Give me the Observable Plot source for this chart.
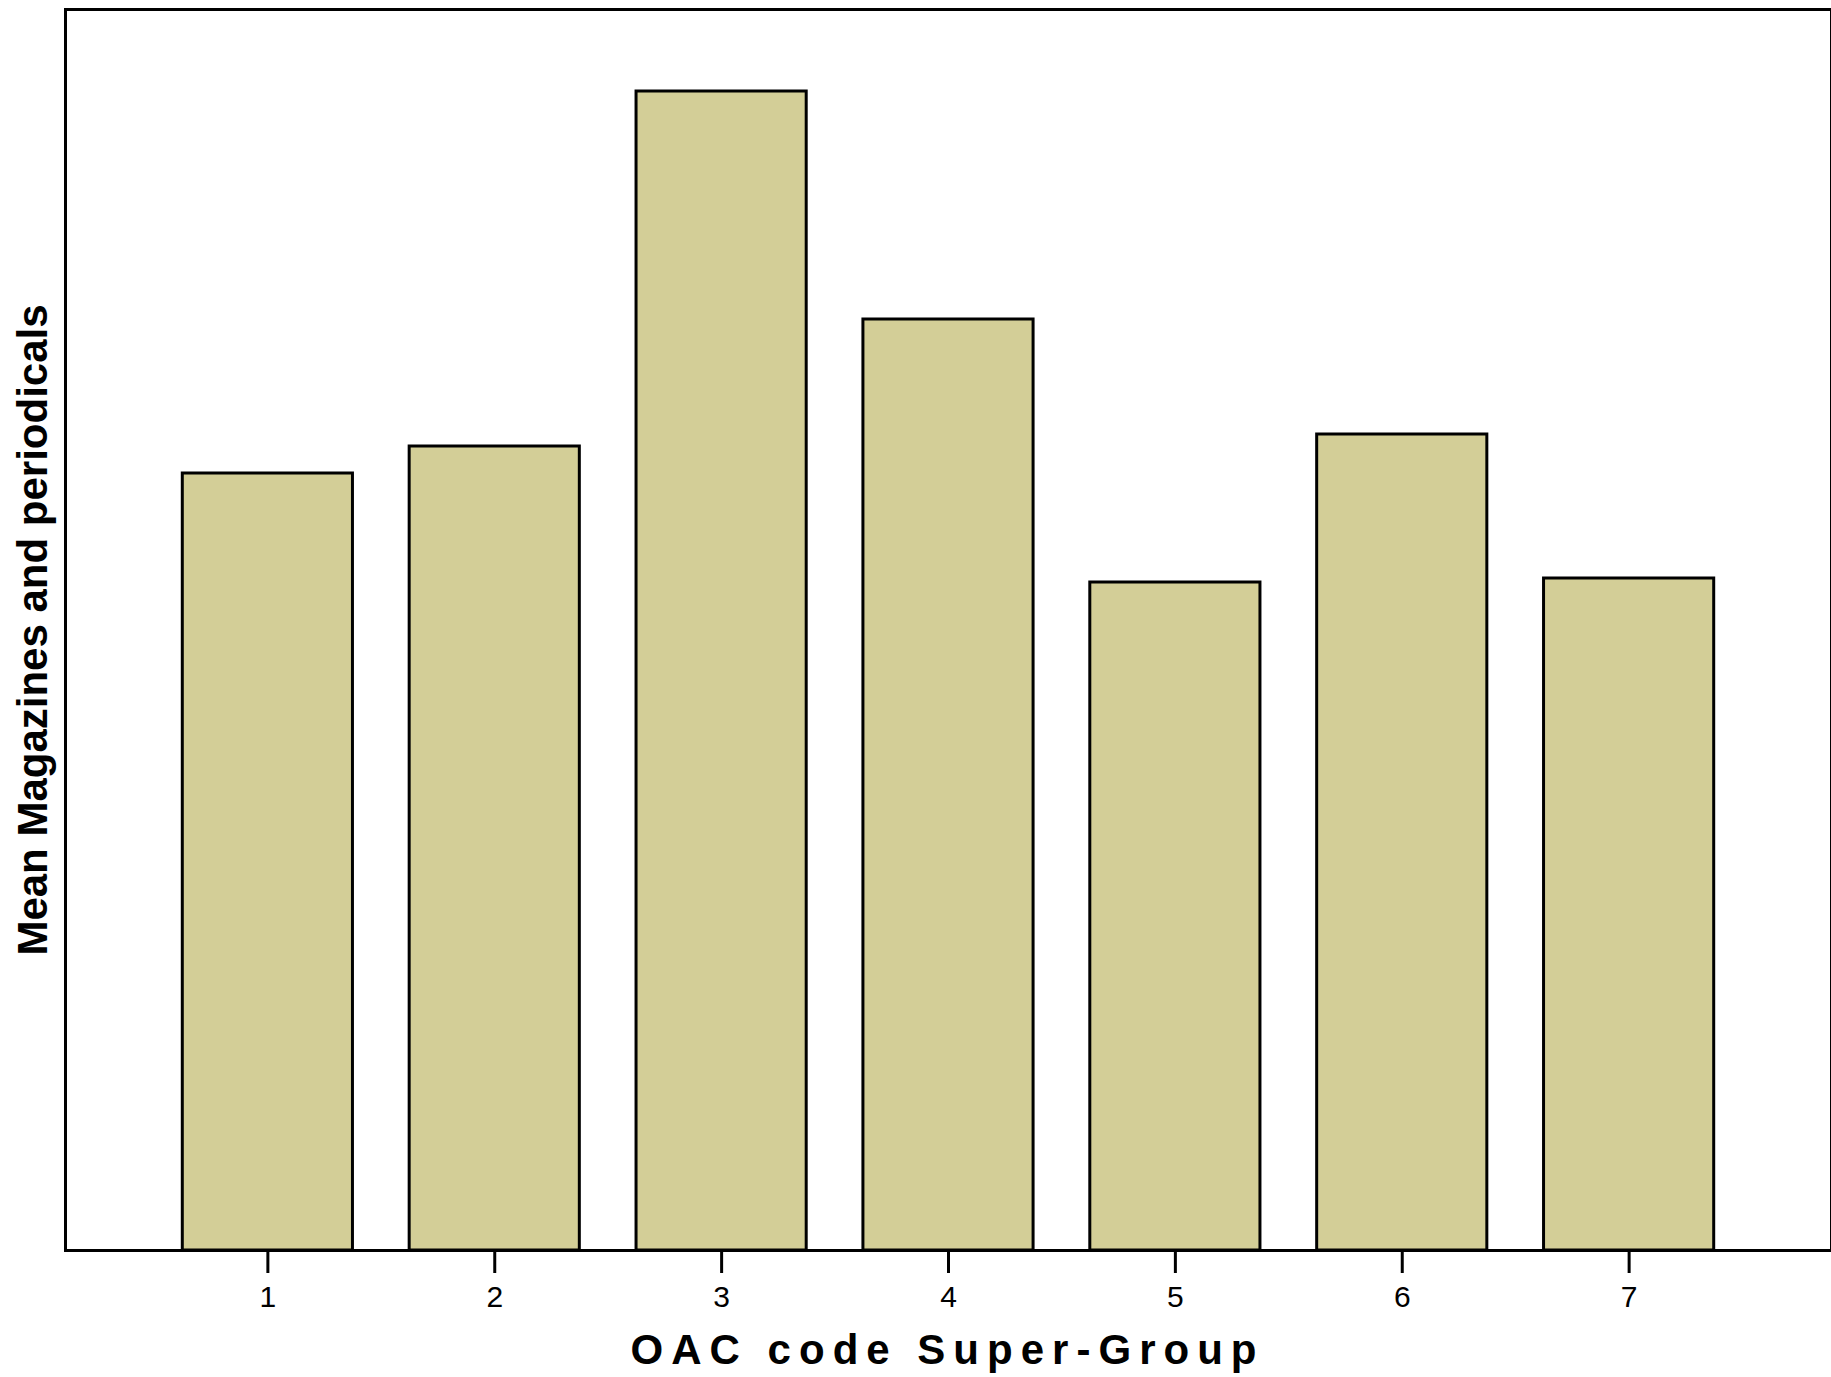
<!DOCTYPE html>
<html>
<head>
<meta charset="utf-8">
<script src="https://cdn.jsdelivr.net/npm/d3@7"></script>
<script src="https://cdn.jsdelivr.net/npm/@observablehq/plot@0.6"></script>
<style>
  html, body { margin: 0; padding: 0; background: #ffffff; }
  #chart { width: 1831px; height: 1377px; overflow: hidden; }
</style>
</head>
<body>
<div id="chart"></div>
<script>
// ---- data ----
const categories = ["1", "2", "3", "4", "5", "6", "7"];
const means = [7.77, 8.04, 11.59, 9.31, 6.68, 8.16, 6.72];
const yMax = 12.41;
const xTitle = "OAC code Super-Group";
const yTitle = "Mean Magazines and periodicals";

const data = categories.map((c, i) => ({group: c, mean: means[i]}));

const chart = Plot.plot({
  width: 1831,
  height: 1377,
  marginLeft: 65,
  marginRight: 0,
  marginTop: 9,
  marginBottom: 127,
  style: {fontFamily: "'Liberation Sans', Arial, sans-serif", background: "#ffffff", color: "#000000"},
  x: {domain: categories, paddingInner: 0.25, paddingOuter: 0.517, round: false, label: null},
  y: {domain: [0, yMax], axis: null},
  marks: [
    Plot.barY(data, {x: "group", y: "mean", fill: "#d3ce97", stroke: "#000000", strokeWidth: 3}),
    Plot.axisX({tickSize: 23, tickPadding: 12, fontSize: 30, strokeWidth: 3, label: null}),
    Plot.frame({stroke: "#000000", strokeWidth: 3}),
    Plot.text([xTitle], {text: d => d, frameAnchor: "bottom", dx: -5, dy: 113, fontSize: 42, fontWeight: "bold"}),
    Plot.text([yTitle], {text: d => d, frameAnchor: "left", textAnchor: "middle", dx: -32, rotate: -90, fontSize: 42, fontWeight: "bold"})
  ]
});

document.getElementById("chart").appendChild(chart);

// fit the x title width (letter-spaced) to the reference
d3.select(chart).selectAll("text").each(function() {
  if (this.textContent === xTitle) d3.select(this).attr("textLength", 626).attr("lengthAdjust", "spacing");
});
</script>
</body>
</html>
